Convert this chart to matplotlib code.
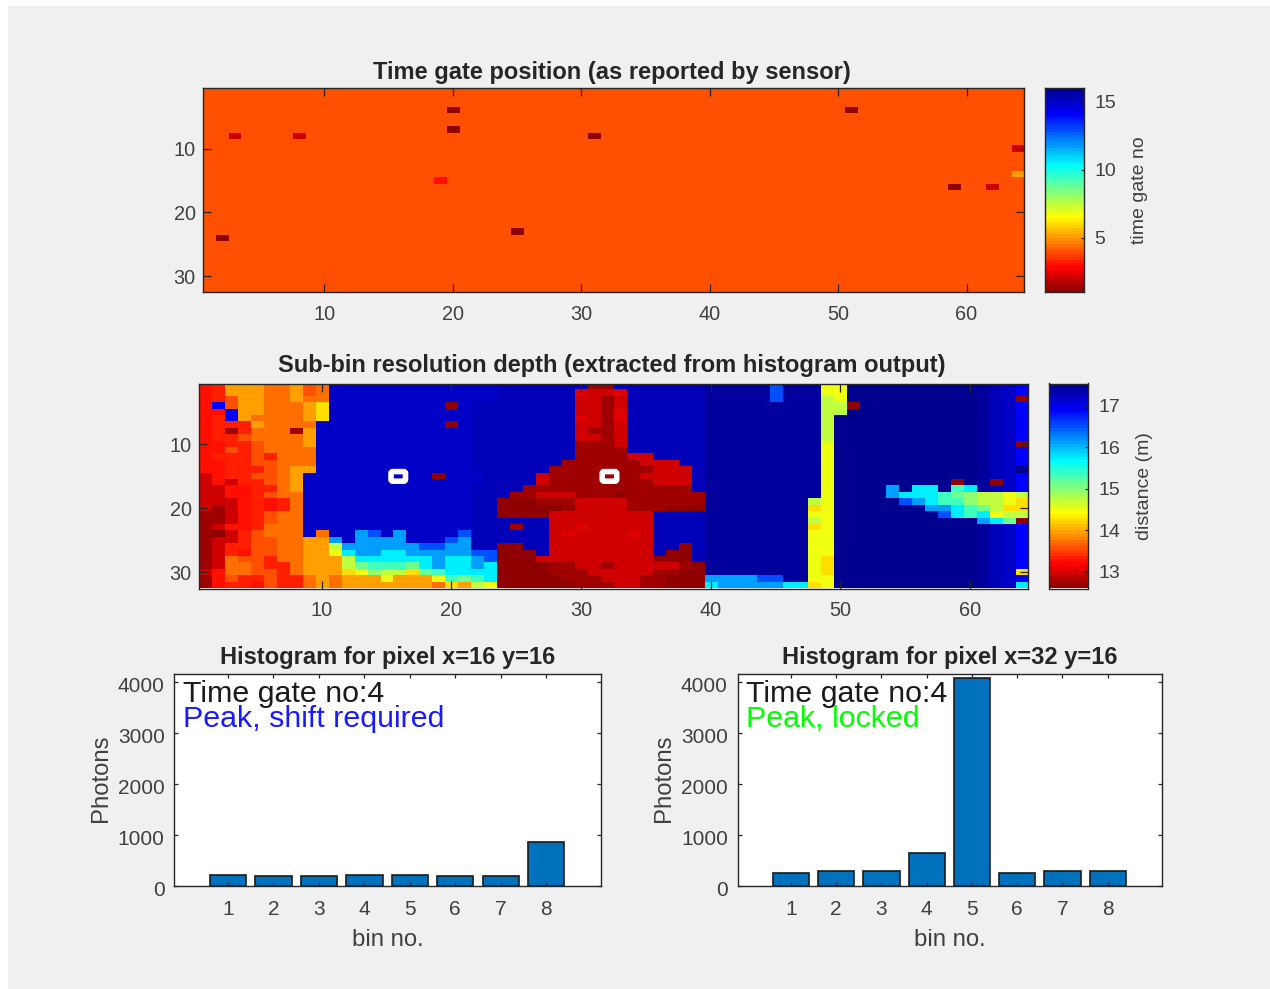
import numpy as np
import matplotlib
matplotlib.use("Agg")
import matplotlib.pyplot as plt
from matplotlib.colors import LinearSegmentedColormap
from matplotlib.patches import Rectangle, FancyBboxPatch
from matplotlib.transforms import ScaledTranslation

plt.rcParams['font.family'] = ['Liberation Sans', 'DejaVu Sans']

W, H = 1270, 989
TXT = '#404040'
DARK = '#262626'

# ---------- data ----------
# Top panel: sensor reported time gate per pixel (base value plus outliers)
gate_base = 4
gate_x = [20, 20, 51, 31, 3, 8, 19, 25, 2, 59, 62, 64, 64]
gate_y = [4, 7, 4, 8, 8, 8, 15, 23, 24, 16, 16, 10, 14]
gate_v = [1, 1, 1, 1, 2, 2, 3, 1, 1, 1, 2, 2, 5]

# Middle panel: depth map, one letter per pixel
depth_levels = dict(a=17.54, x=17.42, b=17.29, c=17.19, d=16.92, e=16.50, f=16.11,
                    g=15.76, h=15.37, i=15.07, j=14.95, k=14.70, l=14.50, m=14.27,
                    n=13.96, o=13.71, p=13.53, q=13.34, r=13.22, v=13.03, s=12.91,
                    t=12.75, u=12.62)
depth_rows = [
    "rqnnnoonpo ccccccccccccc bbbbbbcttcbbbbbb xxxxxexx xll aaaaaaaaaa xbcd",
    "rqnnnoonpo ccccccccccccc bbbbbbvssvbbbbbb xxxxxexx xll aaaaaaaaaa xbcd",
    "rqpnnoonoo ccccccccccccc bbbbbbsstsbbbbbb xxxxxexx xkl aaaaaaaaaa xbcu",
    "rdpnnooonm cccccccccucbb bbbbbbsstsbbbbbb xxxxxxxx xkk uaaaaaaaaa xbcd",
    "rrdnnooonm cccccccccccbb bbbbbbsstvbbbbbb xxxxxxxx xkk aaaaaaaaaa xbcd",
    "rqdnoooonm cccccccccccbb bbbbbbvstvbbbbbb xxxxxxxx xka aaaaaaaaaa xbcd",
    "rqqqnooooc cccccccccucbb bbbbbbsstsbbbbbb xxxxxxxx xka aaaaaaaaaa xbcd",
    "rqtqoootnc cccccccccccbb bbbbbbsttsbbbbbb xxxxxxxx xka aaaaaaaaaa xbcd",
    "rqqpoooonc cccccccccccbb bbbbbbsstsbbbbbb xxxxxxxx xka aaaaaaaaaa xbcd",
    "rrqqpooonc cccccccccccbb bbbbbbtttsbbbbbb xxxxxxxx xla aaaaaaaaaa xbcu",
    "rrpqpooooc cccccccccccbb bbbbbbttttbbbbbb xxxxxxxx xla aaaaaaaaaa xbcd",
    "rqqqpqoooc cccccccccccbb bbbbbbttttssbbbb xxxxxxxx xla aaaaaaaaaa xbcd",
    "rrqqppoooc cccccccccccbb bbbbbttttttsssbb xxxxxxxx xla aaaaaaaaaa xbcd",
    "rrqqqponnc cccccccccccbb bbbbttttttttsssb xxxxxxxx xla aaaaaaaaaa xbca",
    "srqqpponcc ccccccccucccb bbbstttttttssssb xxxxxxxx xla aaaaaaaaaa xbcd",
    "srsqqponcc ccccccccccccb bbbsttttttttsssb xxxxxxxx xla aaaaaaaaua xucd",
    "ssrrqqoncc cccccccccccbb bbtttttttttttttb xxxxxxxx xla aaafaggahg xbcd",
    "ssrrqpoocc cccccccccccbb bttssstttutttttt xxxxxxxx xla aaafggghij kklk",
    "sssrqrqocc cccccccccccbb uuutttsssstttttt xxxxxxxx kla aaaaefghhj kklm",
    "stsrqrqocc cccccccccccbb uuuuutsssstttuuu xxxxxxxx mla aaaaaaffgh ikmm",
    "ttsrqpoocc cccccccccccbb uuuussssssssbbbb xxxxxxxx lla aaaaaaaegh glkk",
    "ttsrqpoocc cccccccccccbb bbbbssssssssbbbb xxxxxxxx kla aaaaaaaaaa fgiu",
    "tsrrqooocc cccccccccccbb btbbssvsssssbbbb xxxxxxxx mla aaaaaaaaaa xbcd",
    "tusqpoooco ccfecfccccebb bbbbsvssssvsbbbb xxxxxxxx lla aaaaaaaaaa xbcd",
    "tssqppoonn fcffffcccefbb bbbbssssssssbbbb xxxxxxxx lla aaaaaaaaaa xbcd",
    "tsqqppoonn kffffffeeffbb uubbssssssssbbub xxxxxxxx lla aaaaaaaaaa xbcd",
    "tsqrppoonn lgffggfffffee uuubssssssssbuub xxxxxxxx lla aaaaaaaaaa xbcd",
    "tsoppqoonn nkggggggfggfe uuusssssssssuuub xxxxxxxx lma aaaaaaaaaa xbcd",
    "tsoopqqonn nkihhhigfggfg uuuuttsstssssstu xxxxxxxx lma aaaaaaaaaa xbcd",
    "srooppqonn nmljkkmihgggg uuuutttsssssttuu xxxxxxxx lma aaaaaaaaaa xbcm",
    "trpqqpqqon onnnlnnnlhihg uuuuutttsssttuuu ffffeexx lla aaaaaaaaaa xbcd",
    "trqqrpqqon onnnnnnnomnkl uuuuuutttssttuuu gfffffgg mla aaaaaaaaaa xbcg",
]

# Markers for the two inspected pixels
marker_x = [15.9, 32.2]
marker_y = [15, 15]

# Histograms
bins = [1, 2, 3, 4, 5, 6, 7, 8]
hist_left = [222, 190, 190, 222, 222, 190, 190, 870]
hist_right = [261, 300, 300, 640, 4070, 261, 300, 300]

# ---------- helpers ----------
fig = plt.figure(figsize=(W / 100, H / 100), dpi=100, facecolor='white')
fig.patches.append(Rectangle((8 / W, 0), 1, 1 - 6 / H, transform=fig.transFigure,
                             facecolor='#f0f0f0', edgecolor='none', zorder=-10))


def axes_px(left, right, top, bottom):
    return fig.add_axes([left / W, 1 - bottom / H, (right - left) / W, (bottom - top) / H])


def style(ax, fs, ticklen, xpad=9, ypad=5):
    ax.tick_params(direction='in', top=True, right=True, length=ticklen, width=0.9,
                   color=DARK, labelcolor=TXT, labelsize=fs)
    ax.tick_params(axis='x', pad=xpad)
    ax.tick_params(axis='y', pad=ypad)
    for s in ax.spines.values():
        s.set_color(DARK)
        s.set_linewidth(1.0)
    ax.set_axisbelow(False)


def colorbar(left, right, top, bottom, vmin, vmax, ticks, label, labelx):
    cax = axes_px(left, right, top, bottom)
    grad = np.linspace(vmax, vmin, 64)[:, None]
    cax.imshow(grad, cmap=cmap, vmin=vmin, vmax=vmax, aspect='auto',
               extent=[0, 1, vmin, vmax], interpolation='nearest')
    cax.set_xticks([])
    cax.set_yticks(ticks)
    cax.yaxis.tick_right()
    style(cax, 14, 2.5)
    cax.tick_params(left=False, top=False, right=True, labelleft=False, labelright=True, pad=7.5)
    fig.text(labelx / W, 1 - (top + bottom) / 2 / H, label, rotation=90, va='center', ha='center',
             fontsize=14, color=TXT)
    return cax


# MATLAB jet(64), flipped (rows 0, 7, 23, 39, 55, 63 are its corners)
cmap = LinearSegmentedColormap.from_list(
    'matlab_jet_r',
    [(0 / 63, (0.5625, 0, 0)), (7 / 63, (1, 0, 0)), (23 / 63, (1, 1, 0)), (39 / 63, (0, 1, 1)),
     (55 / 63, (0, 0, 1)), (63 / 63, (0, 0, 0.5625))], N=64)

# ---------- top panel ----------
gate = np.full((32, 64), float(gate_base))
for x, y, v in zip(gate_x, gate_y, gate_v):
    gate[y - 1, x - 1] = v
ax1 = axes_px(202.5, 1024.3, 88.3, 292)
ax1.imshow(gate, cmap=cmap, vmin=1, vmax=16, aspect='auto', interpolation='nearest',
           extent=[0.5, 64.5, 32.5, 0.5])
ax1.set_xticks(range(10, 61, 10))
ax1.set_yticks([10, 20, 30])
style(ax1, 14.3, 5.5)
ax1.set_title('Time gate position (as reported by sensor)', fontsize=17, fontweight='bold',
              color=DARK, pad=7, x=0.4976)
colorbar(1044.7, 1084, 88.3, 292.3, 1, 16, [5, 10, 15], 'time gate no', 1140)

# ---------- depth panel ----------
depth = np.array([[depth_levels[c] for c in row.replace(' ', '')] for row in depth_rows])
ax2 = axes_px(198.7, 1028, 383.5, 588.5)
ax2.imshow(depth, cmap=cmap, vmin=12.6, vmax=17.54, aspect='auto', interpolation='nearest',
           extent=[0.5, 64.5, 32.5, 0.5])
ax2.set_xticks(range(10, 61, 10))
ax2.set_yticks([10, 20, 30])
style(ax2, 14.3, 5.5)
ax2.set_title('Sub-bin resolution depth (extracted from histogram output)', fontsize=17,
              fontweight='bold', color=DARK, pad=8.5, x=0.4976)
for mx, my in zip(marker_x, marker_y):
    ax2.add_patch(FancyBboxPatch((mx - 0.56, my - 0.75), 1.12, 1.5,
                                 boxstyle='round,pad=0,rounding_size=0.15', fill=False,
                                 edgecolor='white', linewidth=4, mutation_aspect=2, zorder=5))
colorbar(1048.7, 1087.7, 383.5, 588.5, 12.6, 17.54, [13, 14, 15, 16, 17], 'distance (m)', 1144.5)


# ---------- histograms ----------
def hist(left, right, values, title, status, status_color):
    ax = axes_px(left, right, 674, 886)
    ax.bar(bins, values, width=0.8, color='#0072BD', edgecolor='#1a1a1a', linewidth=1.2)
    ax.set_xlim(-0.18, 9.2)
    ax.set_ylim(0, 4150)
    ax.set_xticks(bins)
    ax.set_yticks([0, 1000, 2000, 3000, 4000])
    style(ax, 15, 3, xpad=10, ypad=7)
    shift = ScaledTranslation(0, -2 / 72, fig.dpi_scale_trans)
    for lab in ax.get_yticklabels():
        lab.set_transform(lab.get_transform() + shift)
    ax.set_title(title, fontsize=17, fontweight='bold', color=DARK, pad=7.5)
    ax.set_xlabel('bin no.', fontsize=17.2, color=TXT, labelpad=7.5)
    ax.set_ylabel('Photons', fontsize=17.2, color=TXT, labelpad=4.3, y=0.51)
    fx = 9 / (right - left)
    ax.text(fx, (886 - 702) / 212, 'Time gate no:4', transform=ax.transAxes, fontsize=21.9,
            color='#1a1a1a', va='baseline', ha='left', zorder=6)
    ax.text(fx, (886 - 727) / 212, status, transform=ax.transAxes, fontsize=21.9,
            color=status_color, va='baseline', ha='left', zorder=6)


hist(174.4, 600.7, hist_left, 'Histogram for pixel x=16 y=16', 'Peak, shift required', '#1a1aff')
hist(737.5, 1162, hist_right, 'Histogram for pixel x=32 y=16', 'Peak, locked', '#00ff00')

fig.savefig('out.png', dpi=100, facecolor=fig.get_facecolor())
